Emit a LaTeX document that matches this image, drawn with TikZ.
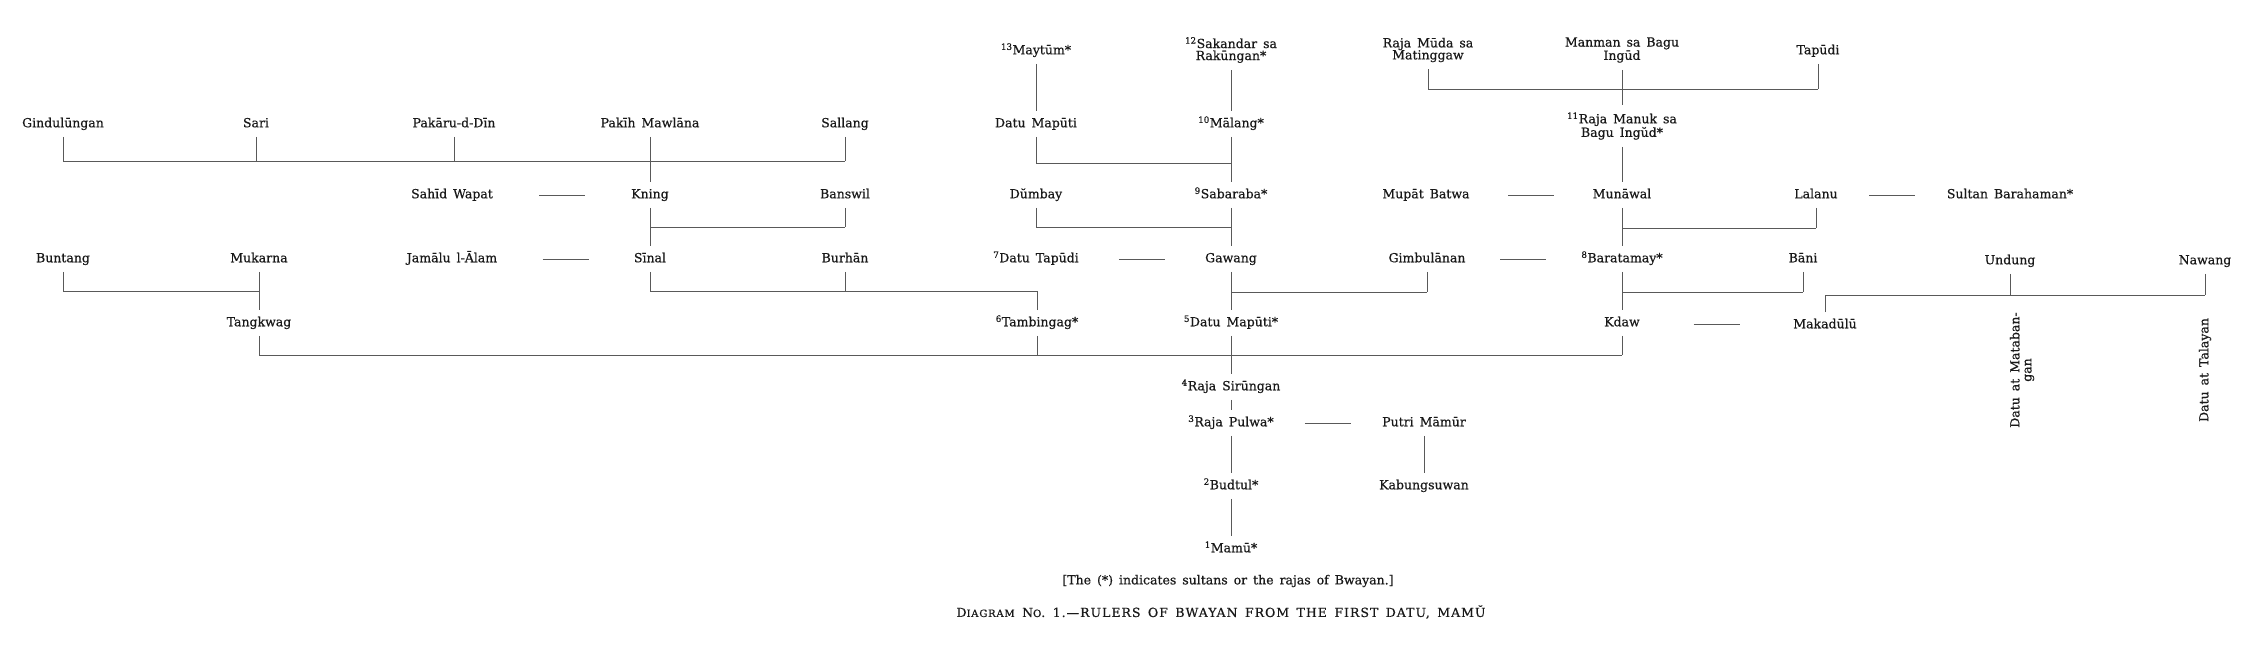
\documentclass[tikz,border=0pt]{standalone}
\usepackage{fontspec}
\setmainfont{DejaVu Serif}[WordSpace=1.5,FakeBold=0.6]
\usetikzlibrary{calc}
\begin{document}
\begin{tikzpicture}
[x=1pt,y=-1pt,
  namedecorate/.style={inner xsep=2pt,inner ysep=7pt,align=center,
    font=\fontsize{12.5}{12}\selectfont,text=black!90},%
  onelinedecorate/.style={namedecorate,text height=9pt,text depth=2.5pt},%
  linedecorate/.style={-,line width=0.8pt,black!65},%
  spousedecorate/.style={linedecorate,
    to path={($(\tikztostart.east)!0.5!(\tikztotarget.west)$) +(-23,0) -- +(23,0)}},%
  notedecorate/.style={font=\fontsize{12.5}{12}\selectfont,text=black!90}]
\useasboundingbox (0,0) rectangle (2257,655);
%% names on one line
\foreach \nodename/\x/\y/\nodetext in {
  maytum/1036/51/{\textsuperscript{13}Maytūm*}, tapudi/1818/51/{Tapūdi},
  gind/63/124/{Gindulūngan}, sari/256/124/{Sari}, pakaru/454/124/{Pakāru-d-Dīn},
  pakih/650/124/{Pakīh Mawlāna}, sallang/845/124/{Sallang},
  datumaputi/1036/124/{Datu Mapūti}, malang/1231/124/{\textsuperscript{10}Mālang*},
  sahid/452/195/{Sahīd Wapat}, kning/650/195/{Kning}, banswil/845/195/{Banswil},
  dumbay/1036/195/{Dŭmbay}, sabaraba/1231/195/{\textsuperscript{9}Sabaraba*},
  mupat/1426/195/{Mupāt Batwa}, munawal/1622/195/{Munāwal},
  lalanu/1816/195/{Lalanu}, barahaman/2010/195/{Sultan Barahaman*},
  buntang/63/259/{Buntang}, mukarna/259/259/{Mukarna},
  jamalu/452/259/{Jamālu l-Ālam}, sinal/650/259/{Sīnal}, burhan/845/259/{Burhān},
  datutapudi/1036/259/{\textsuperscript{7}Datu Tapūdi}, gawang/1231/259/{Gawang},
  gimbulanan/1427/259/{Gimbulānan}, baratamay/1622/259/{\textsuperscript{8}Baratamay*},
  bani/1803/259/{Bāni}, undung/2010/261/{Undung}, nawang/2205/261/{Nawang},
  tangkwag/259/323/{Tangkwag}, tambingag/1037/323/{\textsuperscript{6}Tambingag*},
  maputi/1231/323/{\textsuperscript{5}Datu Mapūti*}, kdaw/1622/323/{Kdaw},
  makadulu/1825/325/{Makadūlū},
  sirungan/1231/387/{\textsuperscript{4}Raja Sirūngan},
  pulwa/1231/423/{\textsuperscript{3}Raja Pulwa*}, mamur/1424/423/{Putri Māmūr},
  budtul/1231/486/{\textsuperscript{2}Budtul*}, kabung/1424/486/{Kabungsuwan},
  mamu/1231/549/{\textsuperscript{1}Mamū*}}
{
  \node (\nodename) at (\x,\y) [onelinedecorate] {\nodetext};
}
%% names on two lines
\foreach \nodename/\x/\y/\nodetext in {
  sakandar/1231/50/{\textsuperscript{12}Sakandar sa\\Rakūngan*},
  rajamuda/1428/50/{Raja Mūda sa\\Matinggaw},
  manman/1622/50/{Manman sa Bagu\\Ingūd},
  manuk/1622/126/{\textsuperscript{11}Raja Manuk sa\\Bagu Ingŭd*}}
{
  \node (\nodename) at (\x,\y) [namedecorate] {\nodetext};
}
\node (matabangan) at (2022,370) [namedecorate,rotate=90] {Datu at Mataban-\\gan};
\node (talayan) at (2205,370) [namedecorate,rotate=90] {Datu at Talayan};
%% lines down the columns
\path
\foreach \startnode/\endnode in {maytum/datumaputi, sakandar/malang, malang/sabaraba,
  sabaraba/gawang, gawang/maputi, maputi/sirungan, sirungan/pulwa, pulwa/budtul,
  budtul/mamu, pakih/kning, kning/sinal, mukarna/tangkwag, manman/manuk,
  manuk/munawal, munawal/baratamay, baratamay/kdaw, mamur/kabung} {
  (\startnode) edge[linedecorate] (\endnode)
};
%% marriages
\path
\foreach \startnode/\endnode in {sahid/kning, jamalu/sinal, datutapudi/gawang,
  mupat/munawal, gimbulanan/baratamay, kdaw/makadulu, lalanu/barahaman, pulwa/mamur} {
  (\startnode) edge[spousedecorate] (\endnode)
};
%% bars joining brothers and sisters
\foreach \leftnode/\rightnode/\bary in {rajamuda/tapudi/89, gind/sallang/161,
  datumaputi/malang/163, kning/banswil/227, dumbay/sabaraba/227, munawal/lalanu/228,
  buntang/mukarna/291, sinal/tambingag/291, gawang/gimbulanan/292, baratamay/bani/292,
  makadulu/nawang/295, tangkwag/kdaw/355}
{
  \draw[linedecorate] (\leftnode |- 0,\bary) -- (\rightnode |- 0,\bary);
}
\foreach \dropnode/\bary in {rajamuda/89, tapudi/89, gind/161, sari/161, pakaru/161,
  sallang/161, datumaputi/163, banswil/227, dumbay/227, lalanu/228, buntang/291,
  sinal/291, burhan/291, gimbulanan/292, bani/292, undung/295, nawang/295,
  tangkwag/355, tambingag/355, kdaw/355}
{
  \draw[linedecorate] (\dropnode.south) -- (\dropnode |- 0,\bary);
}
\foreach \upnode/\bary in {tambingag/291, makadulu/295}
{
  \draw[linedecorate] (\upnode.north) -- (\upnode |- 0,\bary);
}
%% notes
\node (note) at (1228,581) [notedecorate] {[The (*) indicates sultans or the rajas of Bwayan.]};
\node (title) at (1221,612) [notedecorate]
  {\addfontfeature{LetterSpace=8}D{\fontsize{10}{10}\selectfont IAGRAM}
   N{\fontsize{10}{10}\selectfont O}. 1.—RULERS OF BWAYAN FROM THE FIRST DATU, MAMŬ};
\end{tikzpicture}
\end{document}
